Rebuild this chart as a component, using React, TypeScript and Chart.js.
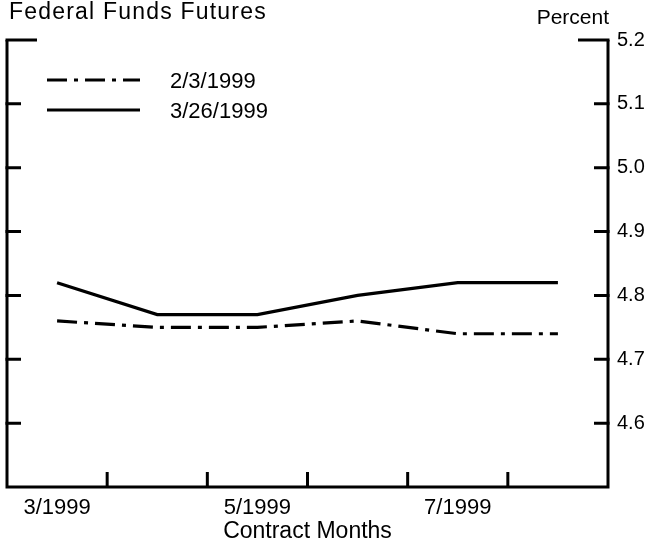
import React, { useEffect, useRef } from "react";
import { Chart, registerables } from "chart.js";

Chart.register(...registerables);

const categories = ["3/1999", "4/1999", "5/1999", "6/1999", "7/1999", "8/1999"];
const tickLabels = ["3/1999", "", "5/1999", "", "7/1999", ""];
const series0203 = [4.76, 4.75, 4.75, 4.76, 4.74, 4.74];
const series0326 = [4.82, 4.77, 4.77, 4.8, 4.82, 4.82];
const seriesNames = ["2/3/1999", "3/26/1999"];
const yMin = 4.5;
const yMax = 5.2;
const yStep = 0.1;

const FONT = "'Liberation Sans', Arial, sans-serif";

const framePlugin = {
  id: "frame",
  afterDraw(chart: any) {
    const ctx = chart.ctx;
    const { left, right, top, bottom } = chart.chartArea;
    const ys = chart.scales.y;
    const xs = chart.scales.x;
    ctx.save();
    ctx.strokeStyle = "#000";
    ctx.lineWidth = 3;
    ctx.lineCap = "butt";
    ctx.setLineDash([]);
    // frame
    ctx.beginPath();
    ctx.moveTo(left, top);
    ctx.lineTo(left, bottom);
    ctx.lineTo(right, bottom);
    ctx.lineTo(right, top);
    ctx.stroke();
    // y ticks (inward, both sides)
    ys.ticks.forEach((t: any) => {
      if (Math.abs(t.value - yMin) < 1e-6) return;
      const y = ys.getPixelForValue(t.value);
      const len = Math.abs(t.value - yMax) < 1e-6 ? 30 : 14;
      ctx.beginPath();
      ctx.moveTo(left - 1.5, y);
      ctx.lineTo(left + len, y);
      ctx.moveTo(right + 1.5, y);
      ctx.lineTo(right - len, y);
      ctx.stroke();
    });
    // x ticks at category boundaries
    for (let i = 1; i < categories.length; i++) {
      const x = (xs.getPixelForValue(i - 1) + xs.getPixelForValue(i)) / 2;
      ctx.beginPath();
      ctx.moveTo(x, bottom);
      ctx.lineTo(x, bottom - 15);
      ctx.stroke();
    }
    // titles
    ctx.fillStyle = "#000";
    ctx.textBaseline = "alphabetic";
    ctx.textAlign = "left";
    ctx.font = `23px ${FONT}`;
    (ctx as any).letterSpacing = "1.2px";
    ctx.fillText("Federal Funds Futures", 9, 19);
    (ctx as any).letterSpacing = "0px";
    ctx.font = `21px ${FONT}`;
    ctx.textAlign = "right";
    ctx.fillText("Percent", 609, 24);
    // legend
    const lx0 = left + 40;
    const lx1 = left + 133;
    const rows = [80, 110];
    chart.data.datasets.forEach((ds: any, i: number) => {
      const y = rows[i];
      ctx.beginPath();
      ctx.lineWidth = 3;
      ctx.setLineDash(ds.borderDash || []);
      ctx.moveTo(lx0, y);
      ctx.lineTo(lx1, y);
      ctx.stroke();
      ctx.setLineDash([]);
      ctx.textAlign = "left";
      ctx.textBaseline = "middle";
      ctx.font = `22px ${FONT}`;
      ctx.fillText(ds.label, 170, y + 2);
    });
    ctx.restore();
  },
};

export default function App() {
  const ref = useRef<HTMLCanvasElement | null>(null);
  useEffect(() => {
    document.body.style.margin = "0";
    const canvas = ref.current;
    if (!canvas) return;
    const chart = new Chart(canvas, {
      type: "line",
      data: {
        labels: categories,
        datasets: [
          {
            label: seriesNames[0],
            data: series0203,
            borderColor: "#000",
            borderWidth: 3.2,
            borderDash: [20, 7, 4, 7],
            pointRadius: 0,
            tension: 0,
            fill: false,
          },
          {
            label: seriesNames[1],
            data: series0326,
            borderColor: "#000",
            borderWidth: 3.2,
            pointRadius: 0,
            tension: 0,
            fill: false,
          },
        ],
      },
      options: {
        responsive: false,
        animation: false,
        devicePixelRatio: 1,
        layout: { padding: { top: 40, left: 7, right: 0, bottom: 0 } },
        plugins: {
          legend: { display: false },
          title: { display: false },
          tooltip: { enabled: false },
        },
        scales: {
          x: {
            type: "category",
            offset: true,
            grid: { display: false, drawTicks: false, offset: true },
            border: { display: false },
            ticks: {
              autoSkip: false,
              maxRotation: 0,
              padding: 8,
              color: "#000",
              font: { family: FONT, size: 22 },
              callback: (_v: any, i: number) => tickLabels[i],
            },
            title: {
              display: true,
              text: "Contract Months",
              color: "#000",
              font: { family: FONT, size: 23 },
              padding: { top: 0, bottom: 1 },
            },
            afterFit: (s: any) => {
              s.height = 59;
            },
          },
          y: {
            position: "right",
            min: yMin,
            max: yMax,
            grid: { display: false, drawTicks: false },
            border: { display: false },
            ticks: {
              stepSize: yStep,
              padding: 9,
              color: "#000",
              font: { family: FONT, size: 20 },
              callback: (v: any) =>
                Math.abs(Number(v) - yMin) < 1e-6 ? "" : Number(v).toFixed(1),
            },
            afterFit: (s: any) => {
              s.width = 44;
            },
          },
        },
      },
      plugins: [framePlugin],
    });
    return () => chart.destroy();
  }, []);
  return (
    <div style={{ width: 652, height: 546 }}>
      <canvas ref={ref} width={652} height={546} style={{ display: "block" }} />
    </div>
  );
}
